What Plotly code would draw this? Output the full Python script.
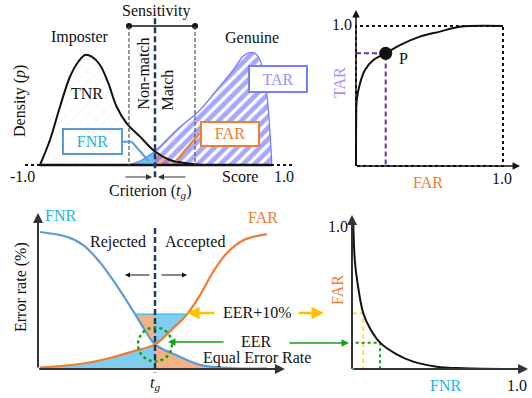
import plotly.graph_objects as go

W, H = 532, 398
FONT = "Liberation Serif, Times New Roman, serif"
BLACK = "#111111"
ORANGE = "#ed7d31"
CYAN = "#1fb0ea"
STEEL = "#5b9bd5"
VIOLET = "#7b7bff"
LIGHT_VIOLET = "#9595ff"
NAVY = "#1f3864"
PURPLE = "#7030a0"
GREEN = "#17a017"
YELLOW = "#ffc000"
LIGHT_YELLOW = "#ffd966"
PEACH = "#f4b183"
SKY = "#7fcdf0"
FNR_FILL = "#62c7ef"
AXIS = "#333333"

# ---------------- data ----------------
# Panel 1: score distributions (score in [-1, 1], density relative to peak)
imp_score = [-0.885, -0.808, -0.731, -0.654, -0.59, -0.538, -0.487, -0.423,
             -0.359, -0.295, -0.218, -0.115, 0.0, 0.115, 0.244, 0.346]
imp_dens = [0.0, 0.223, 0.52, 0.788, 0.922, 0.982, 0.967, 0.893,
            0.73, 0.52, 0.372, 0.253, 0.12, 0.045, 0.015, 0.0]
gen_score = [-0.208, -0.115, -0.054, 0.0, 0.167, 0.346, 0.475, 0.602, 0.679,
             0.731, 0.777, 0.808, 0.838, 0.869, 0.885, 0.895, 0.898]
gen_dens = [0.0, 0.036, 0.08, 0.122, 0.3125, 0.491, 0.67, 0.848, 0.973,
            1.004, 0.991, 0.9375, 0.804, 0.536, 0.268, 0.089, 0.0]
T_G = 0.0
SENS_LO, SENS_HI, SENS_Y = -0.2, 0.308, 1.241

# Panel 2: ROC curve
roc_far = [0.0, 0.001, 0.005, 0.027, 0.061, 0.118, 0.202, 0.299, 0.435, 0.571, 0.707, 1.0]
roc_tar = [0.0, 0.3, 0.471, 0.59, 0.686, 0.757, 0.805, 0.864, 0.924, 0.96, 0.995, 1.0]
P_FAR, P_TAR = 0.202, 0.805

# Panel 3: error rates vs threshold
fnr_t = [0.0, 0.116, 0.188, 0.26, 0.333, 0.406, 0.45, 0.5, 0.594, 0.696, 0.84, 0.986]
fnr_e = [100, 96.5, 90.5, 78, 61, 42, 30, 18, 10, 3, 0.5, 0.5]
far_t = [0.0, 0.188, 0.304, 0.406, 0.5, 0.58, 0.64, 0.696, 0.753, 0.812, 0.884, 0.986]
far_e = [1, 4, 8, 13, 18, 30, 40, 54, 71, 84.5, 94, 98.5]
T_G3 = 0.5
EER = 18
EER10 = 40
EER10_LEFT_T, EER10_RIGHT_T = 0.41, 0.64

# Panel 4: DET curve
det_fnr = [0.008, 0.018, 0.039, 0.069, 0.11, 0.172, 0.274, 0.376, 0.519, 0.683, 0.99]
det_far = [1.0, 0.745, 0.56, 0.387, 0.283, 0.183, 0.102, 0.051, 0.016, 0.005, 0.0]
EER10_FNR, EER10_FAR = 0.069, 0.387
EER_FNR, EER_FAR = 0.172, 0.183

# ---------------- panel geometry ----------------
PANELS = {
    1: dict(xd=(0, 320), yd=(0, 200), ox=155, sx=130, oy=165, sy=112),
    2: dict(xd=(330, 532), yd=(0, 200), ox=356, sx=147, oy=166, sy=140),
    3: dict(xd=(0, 320), yd=(200, 398), ox=40, sx=230, oy=369, sy=1.37),
    4: dict(xd=(325, 532), yd=(200, 398), ox=352, sx=163, oy=369, sy=144),
}


def refs(n):
    return ("x", "y") if n == 1 else (f"x{n}", f"y{n}")


def to_data(n, xp, yp):
    p = PANELS[n]
    return (xp - p["ox"]) / p["sx"], (p["oy"] - yp) / p["sy"]


fig = go.Figure()
layout_axes = {}
for n, p in PANELS.items():
    xr = [(p["xd"][0] - p["ox"]) / p["sx"], (p["xd"][1] - p["ox"]) / p["sx"]]
    yr = [(p["oy"] - p["yd"][1]) / p["sy"], (p["oy"] - p["yd"][0]) / p["sy"]]
    xn = "xaxis" if n == 1 else f"xaxis{n}"
    yn = "yaxis" if n == 1 else f"yaxis{n}"
    xa, ya = refs(n)
    layout_axes[xn] = dict(domain=[p["xd"][0] / W, p["xd"][1] / W], range=xr,
                           visible=False, anchor=ya, fixedrange=True)
    layout_axes[yn] = dict(domain=[1 - p["yd"][1] / H, 1 - p["yd"][0] / H], range=yr,
                           visible=False, anchor=xa, fixedrange=True)


def trace(n, x, y, **kw):
    xa, ya = refs(n)
    kw.setdefault("mode", "lines")
    kw.setdefault("hoverinfo", "skip")
    fig.add_trace(go.Scatter(x=x, y=y, xaxis=xa, yaxis=ya, showlegend=False, **kw))


annotations = []
shapes = []


def lab(n, xp, yp, text, color=BLACK, size=16, angle=0, **kw):
    x, y = to_data(n, xp, yp)
    xa, ya = refs(n)
    d = dict(x=x, y=y, xref=xa, yref=ya, text=text, showarrow=False,
             font=dict(family=FONT, size=size, color=color), textangle=angle,
             xanchor="center", yanchor="middle")
    d.update(kw)
    annotations.append(d)


def box(n, x0, y0, x1, y1, text, tcolor, bcolor):
    lab(n, (x0 + x1) / 2, (y0 + y1) / 2, text, color=tcolor,
        bordercolor=bcolor, borderwidth=2, borderpad=0, bgcolor="white",
        width=x1 - x0 - 4, height=y1 - y0 - 4)


def arrow(n, x, y, axv, ayv, color=AXIS, width=1.5, size=1.0):
    xa, ya = refs(n)
    annotations.append(dict(x=x, y=y, ax=axv, ay=ayv, xref=xa, yref=ya, axref=xa, ayref=ya,
                            text="", showarrow=True, arrowhead=2, arrowsize=size,
                            arrowwidth=width, arrowcolor=color))


def parrow(xt, yt, xtail, ytail, color, width=2.0, size=1.0):
    annotations.append(dict(x=xt / W, y=1 - yt / H, xref="paper", yref="paper",
                            ax=xtail - xt, ay=ytail - yt, text="", showarrow=True,
                            arrowhead=2, arrowsize=size, arrowwidth=width, arrowcolor=color))


def line(n, x0, y0, x1, y1, color, width=1.5, dash="solid"):
    xa, ya = refs(n)
    shapes.append(dict(type="line", xref=xa, yref=ya, x0=x0, y0=y0, x1=x1, y1=y1,
                       line=dict(color=color, width=width, dash=dash)))


def pline(n, p0, p1, color, width=2):
    a = to_data(n, *p0)
    b = to_data(n, *p1)
    line(n, a[0], a[1], b[0], b[1], color, width)


# ================= Panel 1 =================
# imposter hatch
trace(1, imp_score, imp_dens, fill="toself", line=dict(width=0, shape="spline"),
      fillcolor="rgba(0,0,0,0)",
      fillpattern=dict(shape="/", fgcolor="#d8d8d8", bgcolor="rgba(255,255,255,0)",
                       size=8, solidity=0.1))
# FNR (genuine left of threshold)
fx = [s for s in gen_score if s <= T_G]
fy = [p for s, p in zip(gen_score, gen_dens) if s <= T_G]
trace(1, fx + [T_G], fy + [0], fill="toself", fillcolor=FNR_FILL, line=dict(width=0))
# FAR (imposter right of threshold)
ax_ = [s for s in imp_score if s >= T_G]
ay_ = [p for s, p in zip(imp_score, imp_dens) if s >= T_G]
trace(1, [T_G] + ax_, [0] + ay_, fill="toself", fillcolor=PEACH, line=dict(width=0))
# genuine hatch (right of threshold)
gx = [s for s in gen_score if s >= T_G]
gy = [p for s, p in zip(gen_score, gen_dens) if s >= T_G]
trace(1, [T_G] + gx, [0] + gy, fill="toself", fillcolor="rgba(0,0,0,0)", line=dict(width=0),
      fillpattern=dict(shape="/", fgcolor="#4f4fff", bgcolor="rgba(255,255,255,0)",
                       size=8, solidity=0.6))
trace(1, gen_score, gen_dens, line=dict(color=VIOLET, width=1.3, shape="spline"))
trace(1, imp_score, imp_dens, line=dict(color=BLACK, width=2, shape="spline"))
# baseline
line(1, -1.0, 0, 1.065, 0, BLACK, 2, "dot")
line(1, imp_score[0], 0, gen_score[-1], 0, BLACK, 2.5)
# sensitivity bracket
line(1, SENS_LO, SENS_Y, SENS_LO, 0, "#555555", 1.2, "4px,2px")
line(1, SENS_HI, SENS_Y, SENS_HI, 0, "#555555", 1.2, "4px,2px")
trace(1, [SENS_LO, SENS_HI], [SENS_Y, SENS_Y], mode="lines+markers",
      line=dict(color=BLACK, width=1.5), marker=dict(color=BLACK, size=6))
# threshold line
line(1, T_G, 1.31, T_G, -0.134, NAVY, 2.5, "6px,3px")
# criterion arrows
y_arr = to_data(1, 0, 177)[1]
arrow(1, to_data(1, 152, 0)[0], y_arr, to_data(1, 124, 0)[0], y_arr, color="#333333", width=1.2)
arrow(1, to_data(1, 158, 0)[0], y_arr, to_data(1, 187, 0)[0], y_arr, color="#333333", width=1.2)
# leader lines
pline(1, (122, 141.7), (131.7, 141.7), STEEL)
pline(1, (131.7, 141.7), (148.5, 161), STEEL)
pline(1, (200, 133), (176, 161), ORANGE)
# labels
lab(1, 156, 11, "Sensitivity")
lab(1, 80, 37, "Imposter")
lab(1, 252, 37, "Genuine")
lab(1, 87, 93, "TNR")
lab(1, 142.5, 74, "Non-match", angle=-90)
lab(1, 166.5, 90, "Match", angle=-90)
lab(1, 20, 101, "Density (<i>p</i>)", angle=-90)
lab(1, 22.5, 176, "-1.0")
lab(1, 240, 176, "Score")
lab(1, 284, 176, "1.0")
lab(1, 150, 191, "Criterion (<i>t</i><sub><i>g</i></sub>)")
box(1, 62, 128, 123, 155, "FNR", CYAN, STEEL)
box(1, 200, 121.5, 260, 147, "FAR", ORANGE, ORANGE)
box(1, 248, 65, 308, 93, "TAR", LIGHT_VIOLET, VIOLET)

# ================= Panel 2 =================
trace(2, [0, 0, 1, 1, 0], [0, 1, 1, 0, 0], line=dict(color=BLACK, width=2, dash="dot"))
arrow(2, 0, 1.114, 0, 0, color=BLACK, width=1.5)
arrow(2, 1.116, 0, 0, 0, color=BLACK, width=1.5)
trace(2, [0, P_FAR, P_FAR], [P_TAR, P_TAR, 0], line=dict(color=PURPLE, width=2, dash="5px,3px"))
trace(2, roc_far, roc_tar, line=dict(color=BLACK, width=2, shape="spline"))
trace(2, [P_FAR], [P_TAR], mode="markers", marker=dict(color=BLACK, size=13))
lab(2, 342, 24, "1.0")
lab(2, 502, 178, "1.0")
lab(2, 428, 182, "FAR", color=ORANGE)
lab(2, 339, 83, "TAR", color=LIGHT_VIOLET, angle=-90)
lab(2, 403, 58, "P")

# ================= Panel 3 =================
# blue under FAR left of threshold
bx = [t for t in far_t if t <= T_G3]
by = [e for t, e in zip(far_t, far_e) if t <= T_G3]
trace(3, bx + [T_G3, 0], by + [0, 0], fill="toself", fillcolor=SKY, line=dict(width=0))
# orange above FNR, below EER+10%, left of threshold
ox_ = [t for t in fnr_t if EER10_LEFT_T < t < T_G3]
oy_ = [e for t, e in zip(fnr_t, fnr_e) if EER10_LEFT_T < t < T_G3]
trace(3, [EER10_LEFT_T, T_G3, T_G3] + ox_[::-1] + [EER10_LEFT_T],
      [EER10, EER10, EER] + oy_[::-1] + [EER10], fill="toself", fillcolor=PEACH,
      line=dict(width=0))
# blue above FAR, below EER+10%, right of threshold
rx = [t for t in far_t if T_G3 < t < EER10_RIGHT_T]
ry = [e for t, e in zip(far_t, far_e) if T_G3 < t < EER10_RIGHT_T]
trace(3, [T_G3, EER10_RIGHT_T] + rx[::-1] + [T_G3, T_G3],
      [EER10, EER10] + ry[::-1] + [EER, EER10], fill="toself", fillcolor=SKY,
      line=dict(width=0))
# orange under FNR right of threshold
qx = [t for t in fnr_t if t > T_G3]
qy = [e for t, e in zip(fnr_t, fnr_e) if t > T_G3]
trace(3, [T_G3, T_G3] + qx + [qx[-1]], [0, EER] + qy + [0], fill="toself",
      fillcolor=PEACH, line=dict(width=0))
line(3, EER10_LEFT_T, EER10, EER10_RIGHT_T, EER10, "#4fb8e6", 1.5)
arrow(3, 1.065, 0, -0.01, 0, color=AXIS, width=2)
arrow(3, -0.0087, 113.9, -0.0087, 0, color=AXIS, width=2)
trace(3, fnr_t, fnr_e, line=dict(color=STEEL, width=2.2, shape="spline"))
trace(3, far_t, far_e, line=dict(color=ORANGE, width=2.2, shape="spline"))
line(3, T_G3, 103, T_G3, -2.5, NAVY, 2.5, "6px,3px")
rx_, ry_ = 17 / PANELS[3]["sx"], 17 / PANELS[3]["sy"]
shapes.append(dict(type="circle", xref="x3", yref="y3", x0=T_G3 - rx_, x1=T_G3 + rx_,
                   y0=EER - ry_, y1=EER + ry_, line=dict(color=GREEN, width=2.5, dash="dot")))
ya3 = to_data(3, 0, 275)[1]
arrow(3, to_data(3, 125, 0)[0], ya3, to_data(3, 151, 0)[0], ya3, color=BLACK, width=1)
arrow(3, to_data(3, 187, 0)[0], ya3, to_data(3, 160, 0)[0], ya3, color=BLACK, width=1)
lab(3, 60, 216, "FNR", color=CYAN)
lab(3, 263, 218, "FAR", color=ORANGE)
lab(3, 117.5, 242, "Rejected")
lab(3, 195, 242, "Accepted")
lab(3, 21, 287, "Error rate (%)", angle=-90)
lab(3, 155, 383, "<i>t</i><sub><i>g</i></sub>")
lab(3, 257, 312, "EER+10%")
lab(3, 256, 341, "EER")
lab(3, 257, 358, "Equal Error Rate")

# ================= Panel 4 =================
arrow(4, 1.08, 0, 0, 0, color=AXIS, width=2)
arrow(4, 0, 1.069, 0, 0, color=AXIS, width=2)
trace(4, [0, EER10_FNR, EER10_FNR], [EER10_FAR, EER10_FAR, 0],
      line=dict(color=LIGHT_YELLOW, width=2, dash="5px,3px"))
trace(4, [0, 0, EER_FNR, EER_FNR, 0], [0, EER_FAR, EER_FAR, 0, 0],
      line=dict(color=GREEN, width=2, dash="dot"))
trace(4, det_fnr, det_far, line=dict(color=BLACK, width=2, shape="spline"))
lab(4, 338, 227, "1.0")
lab(4, 517, 385, "1.0")
lab(4, 445, 385, "FNR", color=CYAN)
lab(4, 337, 290, "FAR", color=ORANGE, angle=-90)

# cross-panel arrows
parrow(187, 313, 216, 313, YELLOW, 2.5)
parrow(324, 313, 297, 313, YELLOW, 2.5)
parrow(168, 342, 225, 342, GREEN, 1.5)
parrow(349, 343, 288, 343, GREEN, 1.5)

fig.update_layout(width=W, height=H, margin=dict(l=0, r=0, t=0, b=0),
                  paper_bgcolor="white", plot_bgcolor="white", showlegend=False,
                  annotations=annotations, shapes=shapes, **layout_axes)
fig.write_html("out.html")
